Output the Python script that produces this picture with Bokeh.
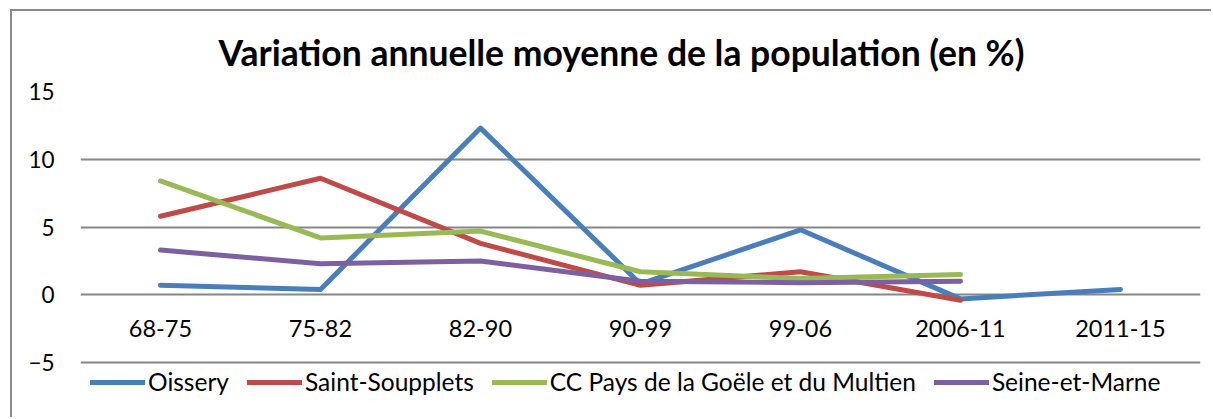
from bokeh.plotting import figure
from bokeh.models import ColumnDataSource, Legend, LegendItem, FixedTicker, LabelSet
from bokeh.core.properties import value
from bokeh.embed import file_html
from bokeh.resources import INLINE

categories = ["68-75", "75-82", "82-90", "90-99", "99-06", "2006-11", "2011-15"]
oissery = [0.7, 0.4, 12.3, 0.8, 4.8, -0.3, 0.4]
saint_soupplets = [5.8, 8.6, 3.8, 0.7, 1.7, -0.4, None]
cc_goele = [8.4, 4.2, 4.7, 1.7, 1.2, 1.5, None]
seine_et_marne = [3.3, 2.3, 2.5, 1.0, 0.9, 1.0, None]
y_ticks = [-5, 0, 5, 10, 15]
axis_crossing = 0

series = [
    ("Oissery", oissery, "#4a7ebb"),
    ("Saint-Soupplets", saint_soupplets, "#be4b48"),
    ("CC Pays de la Goële et du Multien", cc_goele, "#98b954"),
    ("Seine-et-Marne", seine_et_marne, "#7d60a0"),
]

FONT = "Lato"

p = figure(x_range=categories, y_range=(-7.5, 15), width=1201, height=408,
           output_backend="svg", toolbar_location=None,
           min_border_left=68, min_border_right=13, min_border_top=78,
           min_border_bottom=23)
p.styles = {"margin-left": "10px", "margin-top": "9px",
            "border-left": "2px solid #898989", "border-top": "2px solid #898989"}
p.outline_line_color = None
p.background_fill_color = "white"
p.border_fill_color = "white"

p.title.text = "Variation annuelle moyenne de la population (en %)"
p.title.text_font = FONT
p.title.text_font_size = "35.5px"
p.title.text_font_style = "bold"
p.title.align = "left"
p.title.offset = 138
p.title.standoff = 35
p.title.text_color = "black"

p.xgrid.grid_line_color = None
p.ygrid.grid_line_color = "#868686"
p.ygrid.grid_line_width = 2
p.yaxis.ticker = FixedTicker(ticks=y_ticks)
p.yaxis.axis_line_color = None
p.yaxis.major_tick_line_color = None
p.yaxis.minor_tick_line_color = None
p.yaxis.major_label_text_font = FONT
p.yaxis.major_label_text_font_size = "22.5px"
p.yaxis.major_label_text_color = "black"
p.yaxis.major_label_standoff = 20

p.xaxis.visible = False

label_src = ColumnDataSource(dict(x=categories, y=[axis_crossing] * len(categories),
                                  t=categories))
p.add_layout(LabelSet(x="x", y="y", text="t", source=label_src, y_offset=-25,
                      text_align="center", text_baseline="top",
                      text_font=value(FONT), text_font_size=value("23.5px"),
                      text_color="black"))

items = []
for name, vals, color in series:
    xs = [c for c, v in zip(categories, vals) if v is not None]
    ys = [v for v in vals if v is not None]
    src = ColumnDataSource(dict(x=xs, y=ys))
    r = p.line("x", "y", source=src, line_color=color, line_width=5,
               line_cap="round", line_join="round")
    items.append(LegendItem(label=name, renderers=[r]))

legend = Legend(items=items, orientation="horizontal", location=(10, 0),
                glyph_width=55, glyph_height=20, label_standoff=3, spacing=18,
                label_text_font=FONT, label_text_font_size="24.5px",
                label_text_color="black", border_line_color=None,
                background_fill_alpha=0, padding=0, margin=0)
p.add_layout(legend, "center")

open("out.html", "w").write(file_html(p, INLINE))
